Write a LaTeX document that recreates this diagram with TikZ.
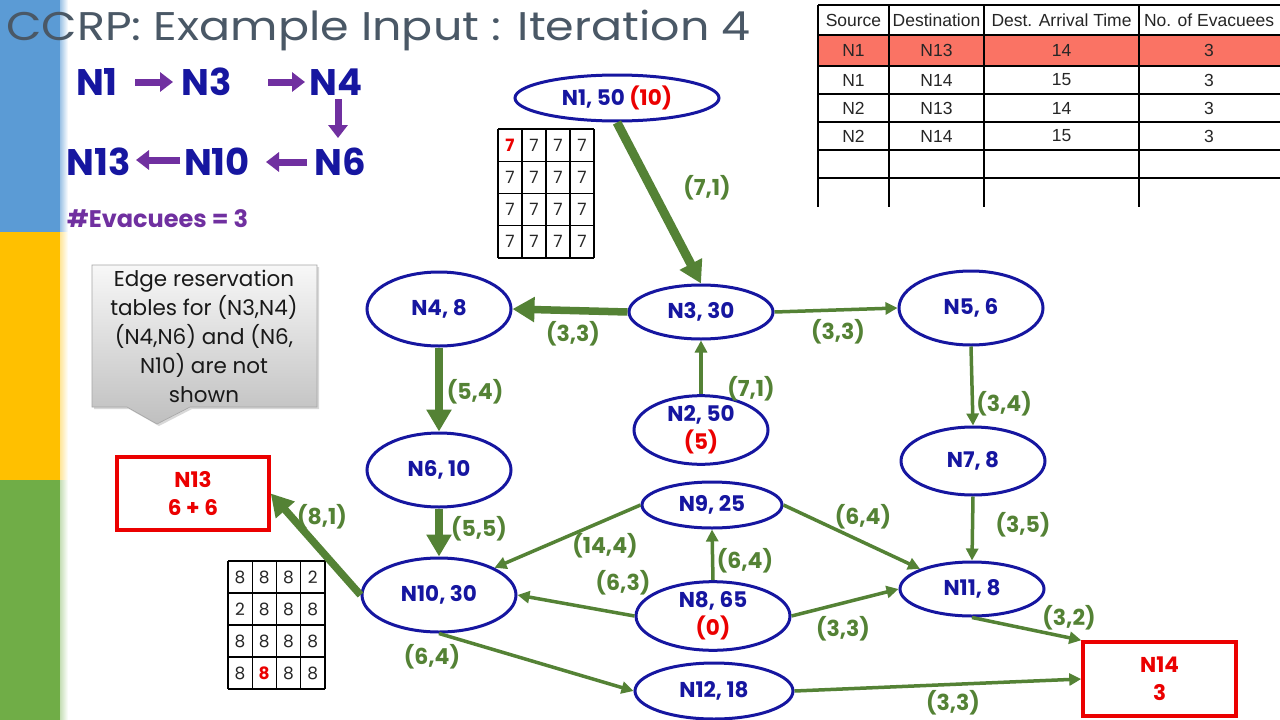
\documentclass[tikz,border=0pt]{standalone}
\usepackage{fontspec}
\setmainfont{Poppins}
\newfontfamily\arialfnt{Liberation Sans}
\usetikzlibrary{arrows.meta,shapes.geometric,shadows,calc}
\definecolor{nblue}{RGB}{22,22,160}
\definecolor{egreen}{RGB}{84,130,53}
\definecolor{ppurple}{RGB}{112,48,160}
\definecolor{titlegray}{RGB}{74,88,102}
\definecolor{sbblue}{RGB}{91,155,213}
\definecolor{sbyellow}{RGB}{255,192,0}
\definecolor{sbgreen}{RGB}{112,173,71}
\definecolor{salmon}{RGB}{250,115,100}
\definecolor{myred}{RGB}{235,0,0}
\newcommand\myNodeFont{\fontsize{21.5}{28}\selectfont\bfseries}
\newcommand\myLblFont{\fontsize{22}{24}\selectfont\bfseries}
\tikzset{
 nd/.style={ellipse, draw=nblue, line width=3pt, text=nblue, font=\myNodeFont, inner sep=0pt, align=center},
 sinkbox/.style={rectangle, draw=myred, line width=3.5pt, text=myred, font=\myNodeFont, inner sep=0pt, align=center},
 eth/.style={draw=egreen, line width=3.5pt, -{Triangle[length=12pt,width=12pt]}},
 ethick/.style={draw=egreen, line width=7.5pt, -{Triangle[length=22pt,width=24pt]}},
 lbl/.style={text=egreen, font=\myLblFont, inner sep=0pt},
 pathtxt/.style={text=nblue, font=\fontsize{37}{37}\selectfont\bfseries, inner sep=0pt},
 parrow/.style={draw=ppurple, line width=7pt, -{Triangle[length=13pt,width=19pt]}},
 tbl/.style={draw=black, line width=1.3pt},
 tbltxt/.style={font=\arialfnt\fontsize{17.5}{17.5}\selectfont, text=black!85, inner sep=0pt},
 gridline/.style={draw=black, line width=1.2pt},
 gridtxt/.style={font=\fontsize{17}{17}\selectfont, text=black!85, inner sep=0pt},
}
\begin{document}
\begin{tikzpicture}[x=1pt,y=-1pt]
\useasboundingbox (0,0) rectangle (1280,720);
\fill[white] (0,0) rectangle (1280,720);
% sidebar
\fill[sbblue] (0,0) rectangle (60,232);
\fill[sbyellow] (0,232) rectangle (60,480);
\fill[sbgreen] (0,480) rectangle (60,720);
\shade[left color=sbblue!60, right color=white] (60,0) rectangle (68,232);
\shade[left color=sbyellow!40, right color=white] (60,232) rectangle (68,480);
\shade[left color=sbgreen!40, right color=white] (60,480) rectangle (68,720);
% title
\node[anchor=base west, text=titlegray, font=\fontsize{40}{40}\selectfont, inner sep=0pt] (title) at (6,40) {\scalebox{1.15}[1]{CCRP: Example Input : Iteration 4}};
% path summary
\node[pathtxt] (p1) at (97,82) {N1};
\node[pathtxt] (p3) at (207,82) {N3};
\node[pathtxt] (p4) at (336,82) {N4};
\node[pathtxt] (p6) at (340,162) {N6};
\node[pathtxt] (p10) at (217,162) {N10};
\node[pathtxt] (p13) at (99,162) {N13};
\coordinate (a1s) at (135,82); \coordinate (a1e) at (173,82);
\coordinate (a2s) at (268,82); \coordinate (a2e) at (305,82);
\coordinate (a3s) at (338,99); \coordinate (a3e) at (338,138);
\coordinate (a4s) at (307,162); \coordinate (a4e) at (266,162);
\coordinate (a5s) at (180,160); \coordinate (a5e) at (136,160);
\draw[parrow] (a1s) -- (a1e);
\draw[parrow] (a2s) -- (a2e);
\draw[parrow] (a3s) -- (a3e);
\draw[parrow] (a4s) -- (a4e);
\draw[parrow] (a5s) -- (a5e);
\node[anchor=base west, text=ppurple, font=\fontsize{24}{24}\selectfont\bfseries, inner sep=0pt] (evac) at (67,227) {\#Evacuees = 3};
% table
\fill[salmon] (818,35) rectangle (1280,66);
\foreach \x in {818,889,984,1139} \draw[tbl] (\x,5) -- (\x,207);
\foreach \y in {5,35,66,94,122,150,178} \draw[tbl] (818,\y) -- (1280,\y);
\node[tbltxt] (th1) at (853.5,20) {Source};
\node[tbltxt] (th2) at (936.5,20) {Destination};
\node[tbltxt] (th3) at (1061.5,20) {Dest. Arrival Time};
\node[tbltxt] (th4) at (1209,20) {No. of Evacuees};
\foreach \r/\yy/\a/\b/\c/\d in {1/50.5/N1/N13/14/3, 2/80/N1/N14/15/3, 3/108/N2/N13/14/3, 4/136/N2/N14/15/3}{
 \node[tbltxt] (tc\r a) at (853.5,\yy) {\a};
 \node[tbltxt] (tc\r b) at (936.5,\yy) {\b};
 \node[tbltxt] (tc\r c) at (1061.5,\yy) {\c};
 \node[tbltxt] (tc\r d) at (1209,\yy) {\d};
}
% callout
\path[draw=gray!70, line width=0.6pt, top color=gray!6, bottom color=gray!50, drop shadow={shadow xshift=2pt, shadow yshift=-2pt, opacity=0.3}]
 (92,265) -- (317,265) -- (317,407) -- (190,407) -- (157,424) -- (127,407) -- (92,407) -- cycle;
\node[align=center, font=\fontsize{21.5}{29}\selectfont, text=black!90, inner sep=0pt] (callout) at (204,336)
 {Edge reservation\\tables for (N3,N4)\\(N4,N6) and (N6,\\N10) are not\\shown};
% grid 1
\foreach \i in {0,...,4} {
 \draw[gridline] (498+24*\i,129) -- (498+24*\i,258);
 \draw[gridline] (498,129+32.25*\i) -- (594,129+32.25*\i);
}
\foreach \r in {0,...,3} \foreach \c in {0,...,3} {
 \ifnum\r=0 \ifnum\c=0
  \node[gridtxt, text=myred, font=\fontsize{17}{17}\selectfont\bfseries] (ga\r\c) at (510+24*\c,145+32.25*\r) {7};
 \else
  \node[gridtxt] (ga\r\c) at (510+24*\c,145+32.25*\r) {7};
 \fi\else
  \node[gridtxt] (ga\r\c) at (510+24*\c,145+32.25*\r) {7};
 \fi
}
% grid 2
\foreach \i in {0,...,4} {
 \draw[gridline] (228+24.25*\i,561) -- (228+24.25*\i,689);
 \draw[gridline] (228,561+32*\i) -- (325,561+32*\i);
}
\foreach \r/\vals in {0/{8,8,8,2},1/{2,8,8,8},2/{8,8,8,8}} {
 \foreach \v [count=\c from 0] in \vals
  \node[gridtxt] (gb\r\c) at (240+24.25*\c,577+32*\r) {\v};
}
\node[gridtxt] (gb30) at (240,673) {8};
\node[gridtxt, text=myred, font=\fontsize{17}{17}\selectfont\bfseries] (gb31) at (264.25,673) {8};
\node[gridtxt] (gb32) at (288.5,673) {8};
\node[gridtxt] (gb33) at (312.75,673) {8};
% nodes
\node[nd, minimum width=204pt, minimum height=46pt] (n1) at (617,98) {N1, 50 \textcolor{myred}{(10)}};
\node[nd, minimum width=144pt, minimum height=54pt] (n3) at (701,312) {N3, 30};
\node[nd, minimum width=144pt, minimum height=74pt] (n4) at (439,309) {N4, 8};
\node[nd, minimum width=144pt, minimum height=74pt] (n5) at (971,308) {N5, 6};
\node[nd, minimum width=144pt, minimum height=68pt] (n7) at (973,461) {N7, 8};
\node[nd, minimum width=144pt, minimum height=54pt] (n11) at (972,589) {N11, 8};
\node[nd, minimum width=134pt, minimum height=66pt] (n2) at (701,430) {N2, 50\\\textcolor{myred}{(5)}};
\node[nd, minimum width=144pt, minimum height=74pt] (n6) at (439,470) {N6, 10};
\node[nd, minimum width=140pt, minimum height=46pt] (n9) at (712,505) {N9, 25};
\node[nd, minimum width=154pt, minimum height=74pt] (n10) at (439,595) {N10, 30};
\node[nd, minimum width=154pt, minimum height=62pt] (n8) at (713,616) {N8, 65\\\textcolor{myred}{(0)}};
\node[nd, minimum width=158pt, minimum height=56pt] (n12) at (714,691) {N12, 18};
\node[sinkbox, minimum width=152pt, minimum height=73pt] (n13) at (193,493.5) {N13\\6 + 6};
\node[sinkbox, minimum width=153pt, minimum height=74pt] (n14) at (1159.5,679) {N14\\3};
% edges
\draw[ethick, line width=9pt] (n1.south) -- (n3.north);
\draw[ethick] (n3.west) -- (n4.east);
\draw[ethick] (n4.south) -- (n6.north);
\draw[ethick] (n6.south) -- (n10.north);
\draw[ethick] (n10.west) -- (n13.east);
\draw[eth] (n3.east) -- (n5.west);
\draw[eth] (n2.north) -- (n3.south);
\draw[eth] (n5.south) -- (n7.north);
\draw[eth] (n7.south) -- (n11.north);
\draw[eth] (n9.west) -- (n10.north east);
\draw[eth] (n8.north) -- (n9.south);
\draw[eth] (n8.west) -- (n10.east);
\draw[eth] (n9.east) -- (n11.north west);
\draw[eth] (n8.east) -- (n11.west);
\draw[eth] (n11.south) -- (n14.north west);
\draw[eth] (n10.south) -- (n12.west);
\draw[eth] (n12.east) -- (n14.west);
% labels
\node[lbl] (l13) at (707,188) {(7,1)};
\node[lbl] (l34) at (573,334) {(3,3)};
\node[lbl] (l35) at (838,332) {(3,3)};
\node[lbl] (l46) at (475,392) {(5,4)};
\node[lbl] (l23) at (751,389) {(7,1)};
\node[lbl] (l57) at (1004,404) {(3,4)};
\node[lbl] (l610) at (479,529) {(5,5)};
\node[lbl] (l910) at (605,546) {(14,4)};
\node[lbl] (l89) at (745,561) {(6,4)};
\node[lbl] (l810) at (623,583) {(6,3)};
\node[lbl] (l911) at (863,517) {(6,4)};
\node[lbl] (l811) at (843,629) {(3,3)};
\node[lbl] (l711) at (1023,525) {(3,5)};
\node[lbl] (l1114) at (1069,618) {(3,2)};
\node[lbl] (l1012) at (432,657) {(6,4)};
\node[lbl] (l1214) at (953,703) {(3,3)};
\node[lbl] (l1013) at (322,517) {(8,1)};
\end{tikzpicture}
\end{document}
